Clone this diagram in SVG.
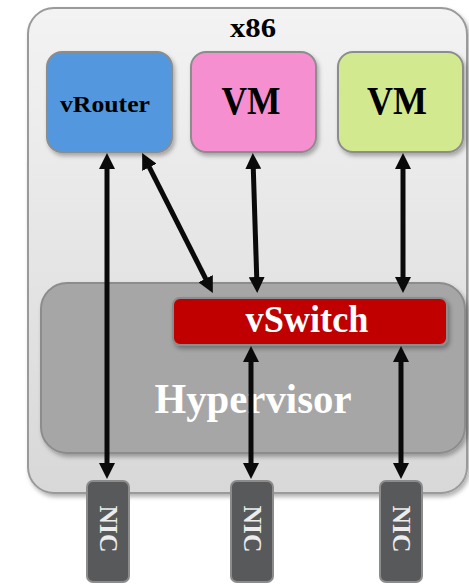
<svg xmlns="http://www.w3.org/2000/svg" width="469" height="584" viewBox="0 0 469 584">
  <defs>
    <linearGradient id="hostFill" x1="0" y1="0" x2="0" y2="1">
      <stop offset="0" stop-color="#f3f3f3"/>
      <stop offset="1" stop-color="#d8d8d8"/>
    </linearGradient>
    <filter id="shadow" x="-10%" y="-10%" width="125%" height="125%">
      <feDropShadow dx="2" dy="3" stdDeviation="2" flood-color="#000" flood-opacity="0.3"/>
    </filter>
    <marker id="head" viewBox="0 0 16 16" markerUnits="userSpaceOnUse" markerWidth="16" markerHeight="16" refX="3" refY="8" orient="auto-start-reverse">
      <path d="M0,0 L16,8 L0,16 Z" fill="#0a0a0a"/>
    </marker>
    <style>
      .box { stroke: #8c8c8c; stroke-width: 2; }
      .bold { font-family: "Liberation Serif", "Times New Roman", serif; font-weight: bold; text-anchor: middle; }
      .link { stroke: #0a0a0a; stroke-width: 5; fill: none; marker-start: url(#head); marker-end: url(#head); }
    </style>
  </defs>

  <!-- x86 host -->
  <g id="host">
    <rect x="28" y="8" width="439" height="485" rx="26" fill="url(#hostFill)" stroke="#9a9a9a" stroke-width="2" filter="url(#shadow)"/>
    <text class="bold" x="253" y="36.5" font-size="27" textLength="46" lengthAdjust="spacingAndGlyphs" fill="#000">x86</text>
  </g>

  <!-- Guests -->
  <g id="vrouter">
    <rect class="box" x="47" y="52" width="125" height="100" rx="15" fill="#5398de" filter="url(#shadow)"/>
    <text class="bold" x="105" y="112" font-size="23" textLength="90" lengthAdjust="spacingAndGlyphs" fill="#000">vRouter</text>
  </g>
  <g id="vm1">
    <rect class="box" x="191" y="52" width="125" height="100" rx="15" fill="#f58fcf" filter="url(#shadow)"/>
    <text class="bold" x="251" y="114" font-size="39" textLength="59" lengthAdjust="spacingAndGlyphs" fill="#000">VM</text>
  </g>
  <g id="vm2">
    <rect class="box" x="338" y="52" width="125" height="100" rx="15" fill="#d3e990" filter="url(#shadow)"/>
    <text class="bold" x="397" y="114" font-size="39" textLength="60" lengthAdjust="spacingAndGlyphs" fill="#000">VM</text>
  </g>

  <!-- Hypervisor layer -->
  <g id="hypervisor">
    <rect class="box" x="41" y="283" width="424" height="170" rx="26" fill="#a6a6a6" filter="url(#shadow)"/>
    <text class="bold" x="253" y="413" font-size="42" textLength="197" lengthAdjust="spacingAndGlyphs" fill="#ffffff">Hypervisor</text>
  </g>
  <g id="vswitch">
    <rect class="box" x="173" y="298" width="274" height="47" rx="7" fill="#c00000" filter="url(#shadow)"/>
    <text class="bold" x="307" y="332" font-size="37" textLength="123" lengthAdjust="spacingAndGlyphs" fill="#ffffff">vSwitch</text>
  </g>

  <!-- Physical NICs -->
  <g id="nic1">
    <rect class="box" x="87" y="481" width="42" height="101" rx="6" fill="#58595b"/>
    <text class="bold" transform="translate(100,529) rotate(90)" font-size="25" textLength="47" lengthAdjust="spacingAndGlyphs" fill="#ececec">NIC</text>
  </g>
  <g id="nic2">
    <rect class="box" x="231" y="481" width="42" height="101" rx="6" fill="#58595b"/>
    <text class="bold" transform="translate(244,529) rotate(90)" font-size="25" textLength="47" lengthAdjust="spacingAndGlyphs" fill="#ececec">NIC</text>
  </g>
  <g id="nic3">
    <rect class="box" x="380" y="481" width="42" height="101" rx="6" fill="#58595b"/>
    <text class="bold" transform="translate(393,529) rotate(90)" font-size="25" textLength="47" lengthAdjust="spacingAndGlyphs" fill="#ececec">NIC</text>
  </g>

  <!-- Connectors -->
  <g id="connectors">
    <line class="link" x1="107" y1="166" x2="107" y2="466"/>
    <line class="link" x1="148" y1="164.6" x2="207" y2="281.4"/>
    <line class="link" x1="253.2" y1="166" x2="256.8" y2="280"/>
    <line class="link" x1="403" y1="166" x2="403" y2="280"/>
    <line class="link" x1="251" y1="359" x2="251" y2="466"/>
    <line class="link" x1="401" y1="359" x2="401" y2="466"/>
  </g>
</svg>
